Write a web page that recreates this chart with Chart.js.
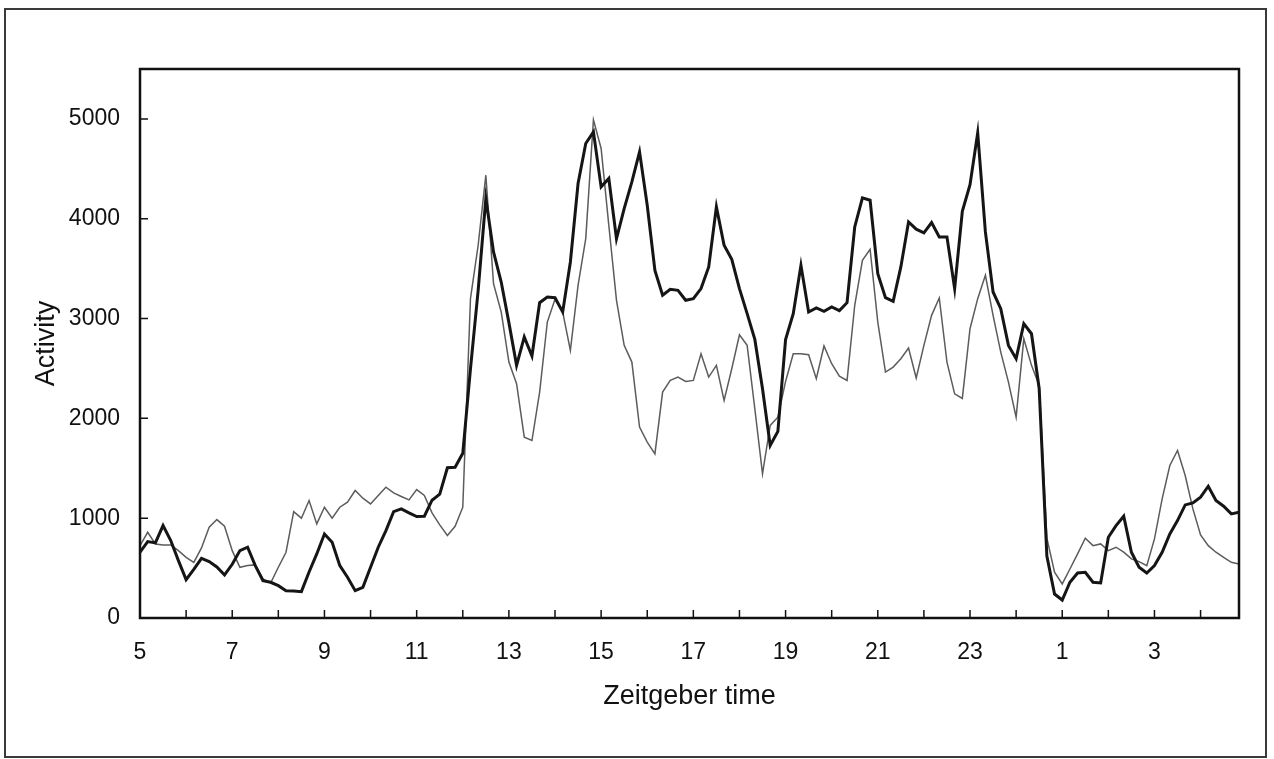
<!DOCTYPE html>
<html>
<head>
<meta charset="utf-8">
<script src="https://cdn.jsdelivr.net/npm/chart.js@4.4.1/dist/chart.umd.min.js"></script>
<style>
  html, body { margin: 0; padding: 0; background: #fff; }
  canvas { display: block; }
</style>
</head>
<body>
<canvas id="activityChart" width="1274" height="759"></canvas>
<script>
// 10-minute bins, starting at ZT 5
const startHour = 5;
const binsPerHour = 6;

const xTickHours = [5, 7, 9, 11, 13, 15, 17, 19, 21, 23, 25, 27];
const xTickLabels = ['5', '7', '9', '11', '13', '15', '17', '19', '21', '23', '1', '3'];
const yTicks = [0, 1000, 2000, 3000, 4000, 5000];

// bold trace
const darkSeries = [
  659, 765, 752, 926, 776, 575, 384, 488, 598, 565, 511, 431,
  538, 675, 709, 525, 374, 358, 324, 274, 270, 264, 461, 642,
  842, 759, 525, 408, 274, 308, 508, 709, 876, 1066, 1093, 1053,
  1016, 1020, 1180, 1240, 1505, 1510, 1650, 2497, 3283, 4202, 3667, 3366,
  2959, 2531, 2815, 2624, 3159, 3216, 3209, 3066, 3567, 4353, 4754, 4870,
  4319, 4403, 3800, 4102, 4369, 4670, 4135, 3483, 3233, 3293, 3283, 3183,
  3199, 3300, 3517, 4119, 3734, 3594, 3300, 3049, 2791, 2297, 1728, 1870,
  2790, 3049, 3533, 3066, 3106, 3073, 3116, 3079, 3159, 3918, 4209, 4185,
  3450, 3209, 3172, 3517, 3968, 3895, 3858, 3962, 3818, 3818, 3300, 4075,
  4340, 4860, 3868, 3266, 3099, 2731, 2598, 2949, 2848, 2297, 620, 240,
  180, 358, 451, 458, 358, 351, 809, 926, 1020, 659, 508, 451,
  525, 659, 842, 976, 1133, 1153, 1210, 1320, 1177, 1120, 1043, 1060
];

// thin trace
const lightSeries = [
  725, 859, 742, 732, 732, 675, 608, 558, 702, 909, 986, 919,
  675, 508, 525, 532, 391, 351, 508, 659, 1066, 1000, 1177, 943,
  1110, 1000, 1110, 1160, 1277, 1200, 1143, 1227, 1310, 1254, 1217, 1183,
  1287, 1227, 1053, 933, 826, 919, 1110, 3200, 3734, 4436, 3350, 3066,
  2564, 2347, 1812, 1778, 2263, 2965, 3193, 3066, 2681, 3333, 3801, 4990,
  4704, 3935, 3183, 2731, 2564, 1912, 1762, 1645, 2263, 2380, 2414, 2370,
  2380, 2648, 2414, 2531, 2180, 2497, 2838, 2731, 2096, 1444, 1929, 2012,
  2370, 2648, 2648, 2638, 2397, 2725, 2547, 2423, 2380, 3133, 3584, 3694,
  2965, 2464, 2514, 2598, 2704, 2404, 2731, 3032, 3206, 2564, 2246, 2200,
  2898, 3199, 3433, 3032, 2664, 2363, 2012, 2798, 2531, 2330, 800, 460,
  341, 491, 642, 799, 725, 742, 675, 709, 659, 592, 565, 525,
  792, 1193, 1528, 1678, 1427, 1093, 832, 725, 659, 608, 558, 542
];

const toPoints = arr => arr.map((v, i) => ({ x: startHour + i / binsPerHour, y: v }));

const fontFamily = '"Liberation Sans", Arial, Helvetica, sans-serif';

const frameAndTicks = {
  id: 'frameAndTicks',
  beforeDraw(chart) {
    const { ctx } = chart;
    ctx.save();
    ctx.fillStyle = '#fff';
    ctx.fillRect(0, 0, chart.width, chart.height);
    ctx.strokeStyle = '#3a3a3a';
    ctx.lineWidth = 2;
    ctx.strokeRect(5, 9, 1261, 748);
    ctx.restore();
  },
  afterDraw(chart) {
    const { ctx, chartArea: a, scales: { x, y } } = chart;
    ctx.save();
    ctx.strokeStyle = '#111';
    ctx.lineWidth = 1.5;
    ctx.beginPath();
    for (let h = Math.ceil(x.min); h <= x.max; h++) {
      const px = x.getPixelForValue(h);
      ctx.moveTo(px, a.bottom);
      ctx.lineTo(px, a.bottom - 8);
    }
    yTicks.forEach(v => {
      const py = y.getPixelForValue(v);
      ctx.moveTo(a.left, py);
      ctx.lineTo(a.left + 8, py);
    });
    ctx.stroke();
    ctx.lineWidth = 2.5;
    ctx.strokeRect(a.left, a.top, a.right - a.left, a.bottom - a.top);
    ctx.restore();
  }
};

const ctx = document.getElementById('activityChart').getContext('2d');
const activityChart = new Chart(ctx, {
  type: 'line',
  data: {
    datasets: [
      {
        data: toPoints(darkSeries),
        borderColor: '#151515',
        borderWidth: 3,
        pointRadius: 0,
        tension: 0
      },
      {
        data: toPoints(lightSeries),
        borderColor: '#5c5c5c',
        borderWidth: 1.5,
        pointRadius: 0,
        tension: 0
      }
    ]
  },
  options: {
    responsive: false,
    animation: false,
    layout: { padding: { top: 69, right: 35, left: 0, bottom: 0 } },
    plugins: {
      legend: { display: false },
      tooltip: { enabled: false }
    },
    scales: {
      x: {
        type: 'linear',
        min: startHour,
        max: startHour + (darkSeries.length - 1) / binsPerHour,
        grid: { display: false, drawTicks: false },
        border: { display: false },
        afterBuildTicks: scale => { scale.ticks = xTickHours.map(v => ({ value: v })); },
        afterFit: scale => { scale.height = 141; },
        ticks: {
          autoSkip: false,
          maxRotation: 0,
          padding: 21,
          color: '#111',
          font: { family: fontFamily, size: 23 },
          callback: v => {
            const k = xTickHours.indexOf(v);
            return k >= 0 ? xTickLabels[k] : '';
          }
        },
        title: {
          display: true,
          text: 'Zeitgeber time',
          color: '#111',
          font: { family: fontFamily, size: 27 },
          padding: { top: 0, bottom: 46 }
        }
      },
      y: {
        min: 0,
        max: 5500,
        grid: { display: false, drawTicks: false },
        border: { display: false },
        afterBuildTicks: scale => { scale.ticks = yTicks.map(v => ({ value: v })); },
        afterFit: scale => { scale.width = 140; },
        ticks: {
          padding: 20,
          color: '#111',
          font: { family: fontFamily, size: 23 },
          callback: v => String(v)
        },
        title: {
          display: true,
          text: 'Activity',
          color: '#111',
          font: { family: fontFamily, size: 27 },
          padding: { top: 30, bottom: 0 }
        }
      }
    }
  },
  plugins: [frameAndTicks]
});
</script>
</body>
</html>
